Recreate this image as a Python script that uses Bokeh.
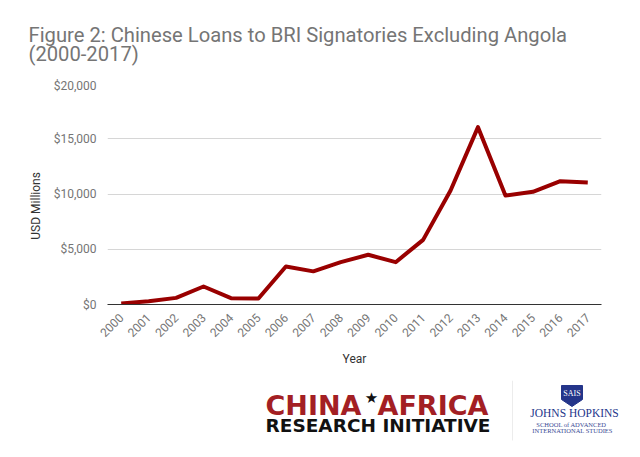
from bokeh.plotting import figure
from bokeh.layouts import column
from bokeh.models import FactorRange, Range1d, NumeralTickFormatter, FixedTicker
from bokeh.core.properties import value
from bokeh.embed import file_html
from bokeh.resources import INLINE
from math import pi

# ---------------- data ----------------
years = [str(y) for y in range(2000, 2018)]
loans = [100, 300, 600, 1630, 570, 540, 3440, 3000, 3830, 4500, 3830, 5850,
         10320, 16050, 9860, 10200, 11160, 11040]
y_ticks = [0, 5000, 10000, 15000, 20000]

title_lines = ["Figure 2: Chinese Loans to BRI Signatories Excluding Angola", "(2000-2017)"]
y_label = "USD Millions"
x_label = "Year"

W = 640


def blank(height):
    f = figure(width=W, height=height, x_range=Range1d(0, W), y_range=Range1d(height, 0),
               x_axis_type=None, y_axis_type=None, output_backend="svg", title=None,
               toolbar_location=None, min_border=0, frame_align=False)
    f.outline_line_color = None
    f.grid.visible = False
    f.background_fill_color = "white"
    f.border_fill_color = "white"
    return f


# ---------------- title ----------------
head = blank(78)
head.text(x=[28, 28], y=[34, 53.5], text=title_lines, text_font=value("Roboto"),
          text_font_size="20.2px", text_color="#757575", text_baseline="middle",
          text_align="left")

# ---------------- chart ----------------
p = figure(width=W, height=302, x_range=FactorRange(*years), y_range=Range1d(0, 20000),
           output_backend="svg", toolbar_location=None, frame_align=False, title=None,
           min_border_left=107, min_border_right=39, min_border_top=5, min_border_bottom=76)
p.outline_line_color = None
p.background_fill_color = "white"
p.border_fill_color = "white"

p.line(years, loans, line_color="#990000", line_width=4, line_join="round")

p.xgrid.grid_line_color = None
p.ygrid.grid_line_color = "#d6d6d6"
p.ygrid.grid_line_width = 1

p.yaxis.ticker = FixedTicker(ticks=y_ticks)
p.yaxis.formatter = NumeralTickFormatter(format="$0,0")
p.yaxis.axis_line_color = None
p.yaxis.major_tick_line_color = None
p.yaxis.minor_tick_line_color = None
p.yaxis.major_label_text_font = "Roboto"
p.yaxis.major_label_text_font_size = "12px"
p.yaxis.major_label_text_color = "#757575"
p.yaxis.major_label_standoff = 5
p.yaxis.axis_label = y_label + "\u00a0" * 8
p.yaxis.axis_label_text_font = "Roboto"
p.yaxis.axis_label_text_font_style = "normal"
p.yaxis.axis_label_text_font_size = "12px"
p.yaxis.axis_label_text_color = "#333333"
p.yaxis.axis_label_standoff = 8

p.xaxis.axis_line_color = "#333333"
p.xaxis.axis_line_width = 1
p.xaxis.major_tick_line_color = None
p.xaxis.minor_tick_line_color = None
p.xaxis.major_label_orientation = pi / 4
p.xaxis.major_label_text_font = "Roboto"
p.xaxis.major_label_text_font_size = "12px"
p.xaxis.major_label_text_color = "#757575"
p.xaxis.major_label_standoff = 5
p.xaxis.axis_label = x_label
p.xaxis.axis_label_text_font = "Roboto"
p.xaxis.axis_label_text_font_style = "normal"
p.xaxis.axis_label_text_font_size = "12px"
p.xaxis.axis_label_text_color = "#333333"
p.xaxis.axis_label_standoff = 8

# ---------------- logos ----------------
logo = blank(77)
red_words = ["CHINA", "AFRICA"]
logo.text(x=[265, 377], y=[24.5, 24.5], text=red_words, text_font=value("DejaVu Sans"),
          text_font_style="bold", text_font_size="27px", text_color="#A31F24",
          text_baseline="middle", text_align="left")
logo.text(x=[371], y=[17], text=["★"], text_font=value("DejaVu Sans"),
          text_font_size="15px", text_color="#111111",
          text_baseline="middle", text_align="center")
logo.text(x=[265], y=[45], text=["RESEARCH INITIATIVE"], text_font=value("DejaVu Sans"),
          text_font_style="bold", text_font_size="18.5px", text_color="#111111",
          text_baseline="middle", text_align="left")

# separator
logo.segment(x0=[512], y0=[0], x1=[512], y1=[60], line_color="#ececec", line_width=1)

# SAIS shield
shield_x = [561, 582, 582, 571.5, 561]
shield_y = [5, 5, 19, 26, 19]
logo.patch(shield_x, shield_y, fill_color="#24358A", line_color="#24358A")
logo.text(x=[571.5], y=[13], text=["SAIS"], text_font=value("Liberation Serif"),
          text_font_size="8px", text_color="white", text_baseline="middle", text_align="center")
jh_text = ["JOHNS HOPKINS", "SCHOOL of ADVANCED", "INTERNATIONAL STUDIES"]
logo.text(x=[574], y=[32.5], text=[jh_text[0]], text_font=value("Liberation Serif"),
          text_font_size="11.5px", text_color="#24358A", text_baseline="middle",
          text_align="center")
logo.text(x=[571, 572], y=[44, 50], text=jh_text[1:], text_font=value("Liberation Serif"),
          text_font_size="6.5px", text_color="#3b4a94", text_baseline="middle",
          text_align="center")

layout = column(head, p, logo, spacing=0)
open("out.html", "w").write(file_html(layout, INLINE))
